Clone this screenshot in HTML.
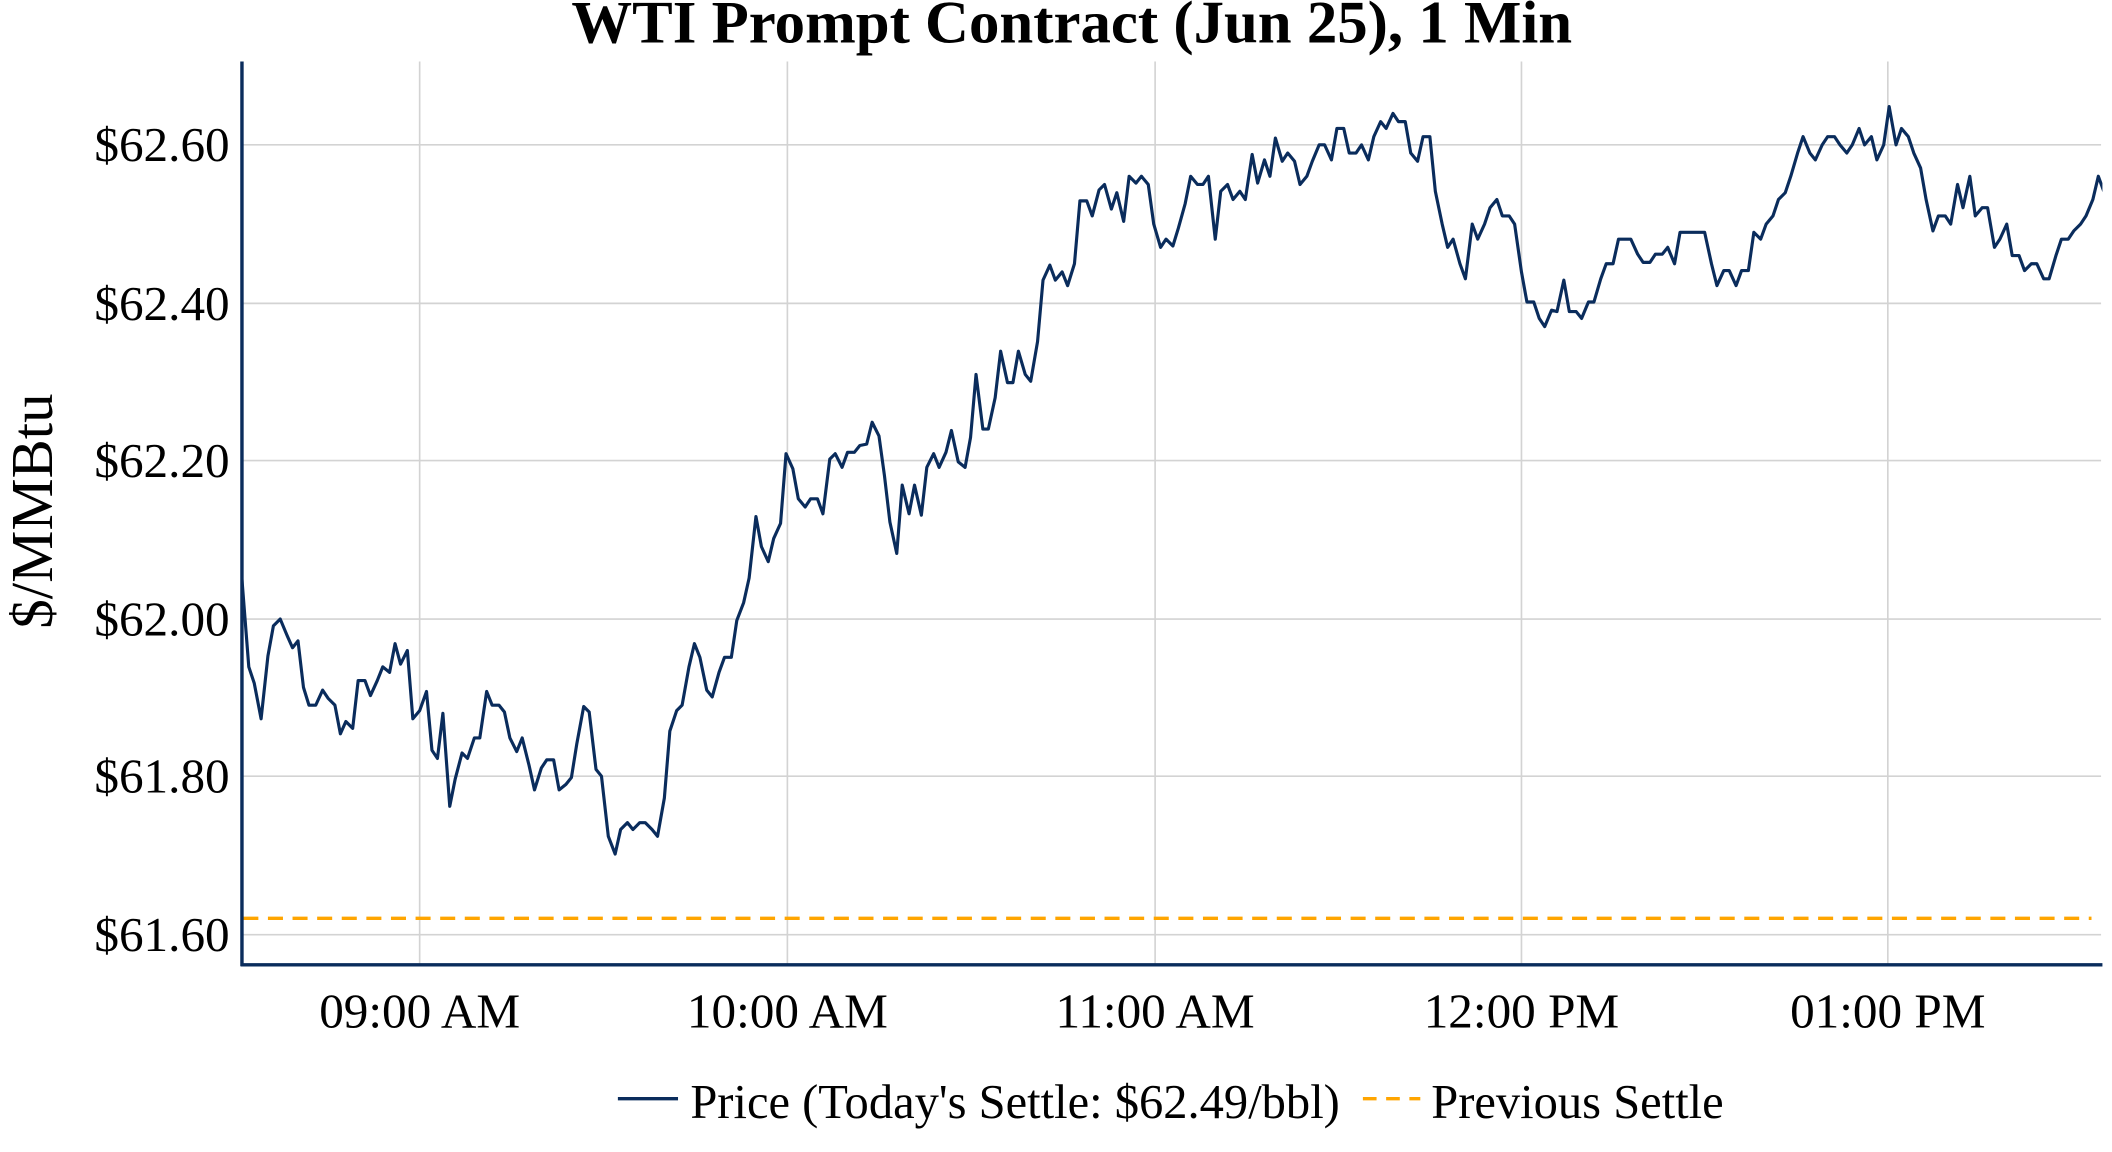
<!DOCTYPE html>
<html><head><meta charset="utf-8"><style>
html,body{margin:0;padding:0;background:#fff;}
svg{display:block;}
text{font-family:"Liberation Serif",serif;fill:#000;}
</style></head><body>
<svg width="2112" height="1152" viewBox="0 0 1545 843" preserveAspectRatio="none" xmlns="http://www.w3.org/2000/svg">
<rect width="1545" height="843" fill="#fff"/>
<g stroke="#d3d3d3" stroke-width="1.2">
<line x1="176" y1="106" x2="1537" y2="106"/>
<line x1="176" y1="222" x2="1537" y2="222"/>
<line x1="176" y1="337" x2="1537" y2="337"/>
<line x1="176" y1="453" x2="1537" y2="453"/>
<line x1="176" y1="568" x2="1537" y2="568"/>
<line x1="176" y1="684" x2="1537" y2="684"/>
<line x1="307" y1="45" x2="307" y2="706"/>
<line x1="576" y1="45" x2="576" y2="706"/>
<line x1="845" y1="45" x2="845" y2="706"/>
<line x1="1113" y1="45" x2="1113" y2="706"/>
<line x1="1381" y1="45" x2="1381" y2="706"/>
</g>
<line x1="178" y1="672" x2="1530" y2="672" stroke="#FFA500" stroke-width="2.5" stroke-dasharray="11,7"/>
<clipPath id="c"><rect x="176" y="40" width="1362" height="666"/></clipPath>
<polyline clip-path="url(#c)" fill="none" stroke="#0a2c5c" stroke-width="2.3" stroke-linejoin="round" points="177,424 182,488 186,500 191,526 196,480 200,458 205,453 210,465 214,474 218,469 222,503 226,516 231,516 236,505 240,511 245,516 249,537 253,528 258,533 262,498 267,498 271,509 276,498 280,488 285,492 289,471 293,486 298,476 302,526 307,520 312,506 316,549 320,555 324,522 329,590 333,570 338,551 342,555 347,540 351,540 356,506 360,516 365,516 369,521 373,540 378,550 382,540 387,560 391,578 396,562 400,556 405,556 409,578 414,574 418,569 422,544 427,517 431,521 436,563 440,568 445,612 450,625 454,607 459,602 463,607 468,602 472,602 477,607 481,612 486,584 490,535 495,520 499,516 504,488 508,471 512,481 517,505 521,510 526,492 530,481 535,481 539,454 544,441 548,423 553,378 557,400 562,411 566,394 571,383 575,332 580,343 584,365 589,371 593,365 598,365 602,376 607,336 611,332 616,342 620,331 625,331 629,326 634,325 638,309 643,319 647,348 651,382 656,405 660,355 665,376 669,355 674,377 678,342 683,332 687,342 692,331 696,315 701,338 706,342 710,320 714,274 719,314 723,314 728,291 732,257 737,280 741,280 745,257 750,274 754,279 759,250 763,205 768,194 772,205 777,199 781,209 786,193 790,147 795,147 799,158 804,139 808,135 813,153 817,141 822,162 826,129 831,134 835,129 840,135 844,164 849,181 853,175 858,180 862,167 867,149 871,129 876,135 880,135 884,129 889,175 893,140 898,135 902,146 907,140 911,146 916,113 920,134 925,117 929,129 933,101 938,118 942,112 947,118 951,135 956,129 960,118 965,106 969,106 974,117 978,94 983,94 987,112 992,112 996,106 1001,117 1005,100 1010,89 1014,94 1019,83 1023,89 1028,89 1032,112 1037,118 1041,100 1046,100 1050,140 1055,164 1059,181 1063,175 1068,193 1072,204 1077,164 1081,175 1086,164 1090,152 1095,146 1099,158 1104,158 1108,164 1113,199 1117,221 1122,221 1126,233 1130,239 1135,227 1139,228 1144,205 1148,228 1153,228 1157,233 1162,221 1166,221 1171,204 1175,193 1180,193 1184,175 1189,175 1193,175 1198,186 1202,192 1207,192 1211,186 1216,186 1220,181 1225,193 1229,170 1234,170 1238,170 1243,170 1247,170 1252,193 1256,209 1261,198 1265,198 1270,209 1274,198 1279,198 1283,170 1288,175 1292,164 1297,158 1301,146 1306,141 1310,129 1315,112 1319,100 1324,112 1328,117 1333,106 1337,100 1342,100 1346,106 1351,112 1355,106 1360,94 1364,106 1369,100 1373,117 1378,106 1382,78 1387,106 1391,94 1396,100 1400,112 1405,123 1409,146 1414,169 1418,158 1423,158 1427,164 1432,135 1436,152 1441,129 1445,158 1450,152 1454,152 1459,181 1463,175 1468,164 1472,187 1477,187 1481,198 1486,193 1490,193 1495,204 1499,204 1504,187 1508,175 1513,175 1517,169 1522,164 1526,158 1531,146 1535,129 1539,140"/>
<line x1="177" y1="45" x2="177" y2="707" stroke="#0a2c5c" stroke-width="2.5"/>
<line x1="176" y1="706" x2="1538" y2="706" stroke="#0a2c5c" stroke-width="2.5"/>
<g font-size="36" text-anchor="end">
<text x="168" y="118">$62.60</text>
<text x="168" y="234">$62.40</text>
<text x="168" y="349">$62.20</text>
<text x="168" y="465">$62.00</text>
<text x="168" y="580">$61.80</text>
<text x="168" y="696">$61.60</text>
</g>
<g font-size="36" text-anchor="middle">
<text x="307" y="752">09:00 AM</text>
<text x="576" y="752">10:00 AM</text>
<text x="845" y="752">11:00 AM</text>
<text x="1113" y="752">12:00 PM</text>
<text x="1381" y="752">01:00 PM</text>
</g>
<text x="784" y="31" font-size="44.5" font-weight="bold" text-anchor="middle">WTI Prompt Contract (Jun 25), 1 Min</text>
<text transform="translate(38,374) rotate(-90)" font-size="43" text-anchor="middle">$/MMBtu</text>
<line x1="452" y1="804" x2="496" y2="804" stroke="#0a2c5c" stroke-width="2.5"/>
<text x="505" y="818" font-size="35.5">Price (Today's Settle: $62.49/bbl)</text>
<line x1="997" y1="804" x2="1039" y2="804" stroke="#FFA500" stroke-width="2.5" stroke-dasharray="10,7"/>
<text x="1047" y="818" font-size="35.5">Previous Settle</text>
</svg>
</body></html>
